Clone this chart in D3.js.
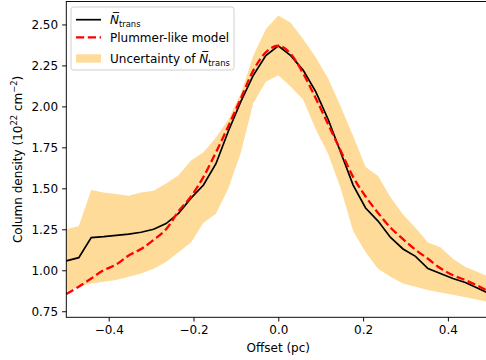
<!DOCTYPE html>
<html>
<head>
<meta charset="utf-8">
<script src="https://cdn.jsdelivr.net/npm/d3@7"></script>
<style>
  body { margin: 0; background: #fff; }
  svg { display: block; font-family: "DejaVu Sans", sans-serif; }
</style>
</head>
<body>
<div id="chart"></div>
<script>
// offsets (pc), 35 samples from -0.5 to 0.5
var offsets = d3.range(35).map(function(i){ return -0.5 + i / 34; });

// mean transverse column density (1e22 cm^-2)
var nTrans = [1.057, 1.077, 1.199, 1.205, 1.213, 1.22, 1.232, 1.25, 1.285, 1.347,
              1.44, 1.52, 1.65, 1.85, 2.03, 2.19, 2.31, 2.37, 2.31, 2.22,
              2.09, 1.92, 1.72, 1.52, 1.38, 1.30, 1.20, 1.13, 1.085, 1.01,
              0.98, 0.95, 0.925, 0.89, 0.855];

// Plummer-like model
var model = [0.855, 0.90, 0.95, 1.00, 1.035, 1.09, 1.13, 1.185, 1.25, 1.36,
             1.45, 1.57, 1.72, 1.88, 2.05, 2.22, 2.33, 2.37, 2.32, 2.20,
             2.05, 1.89, 1.73, 1.57, 1.45, 1.35, 1.26, 1.19, 1.125, 1.07,
             1.012, 0.97, 0.94, 0.905, 0.865];

// uncertainty band
var upper = [1.25, 1.27, 1.49, 1.475, 1.465, 1.455, 1.475, 1.485, 1.53, 1.58,
             1.67, 1.72, 1.81, 1.92, 2.08, 2.31, 2.47, 2.555, 2.51, 2.41,
             2.30, 2.17, 2.00, 1.82, 1.63, 1.575, 1.445, 1.34, 1.26, 1.17,
             1.14, 1.07, 1.02, 0.99, 0.955];
var lower = [0.87, 0.90, 0.92, 0.93, 0.94, 0.96, 0.98, 1.01, 1.05, 1.11,
             1.17, 1.29, 1.345, 1.50, 1.72, 2.02, 2.15, 2.19, 2.12, 2.04,
             1.86, 1.71, 1.50, 1.24, 1.11, 1.01, 0.96, 0.92, 0.90, 0.88,
             0.865, 0.85, 0.835, 0.82, 0.805];

var xTicks = [-0.4, -0.2, 0.0, 0.2, 0.4];
var yTicks = [0.75, 1.00, 1.25, 1.50, 1.75, 2.00, 2.25, 2.50];

var W = 486, H = 360;
var margin = {top: 1.5, left: 66.3};
var plotW = 424, plotH = 315.8;
var fs = 12, fsSmall = 8.4;

var svg = d3.select("#chart").append("svg")
    .attr("width", W).attr("height", H);

var g = svg.append("g")
    .attr("transform", "translate(" + margin.left + "," + margin.top + ")");

var x = d3.scaleLinear().domain([-0.5, 0.5]).range([0, plotW]);
var y = d3.scaleLinear().domain([0.713, 2.64]).range([plotH, 0]);

var pts = offsets.map(function(o, i){
  return {x: o, n: nTrans[i], m: model[i], hi: upper[i], lo: lower[i]};
});

// band
g.append("path")
  .datum(pts)
  .attr("fill", "#ffdb99")
  .attr("d", d3.area()
    .x(function(d){ return x(d.x); })
    .y0(function(d){ return y(d.lo); })
    .y1(function(d){ return y(d.hi); }));

g.append("path")
  .datum(pts)
  .attr("fill", "none")
  .attr("stroke", "#000")
  .attr("stroke-width", 1.7)
  .attr("d", d3.line().x(function(d){ return x(d.x); }).y(function(d){ return y(d.n); }));

g.append("path")
  .datum(pts)
  .attr("fill", "none")
  .attr("stroke", "#ff0000")
  .attr("stroke-width", 2.3)
  .attr("stroke-dasharray", "8.2,3.6")
  .attr("d", d3.line().curve(d3.curveMonotoneX)
    .x(function(d){ return x(d.x); }).y(function(d){ return y(d.m); }));

// axes
var xAxis = g.append("g")
  .attr("transform", "translate(0," + plotH + ")")
  .call(d3.axisBottom(x).tickValues(xTicks).tickSize(4.2).tickPadding(4)
    .tickFormat(function(d){ return d3.format(".1f")(d).replace("-", "\u2212"); }));
var yAxis = g.append("g")
  .call(d3.axisLeft(y).tickValues(yTicks).tickSize(4.2).tickPadding(4)
    .tickFormat(d3.format(".2f")));

[xAxis, yAxis].forEach(function(a){
  a.select(".domain").remove();
  a.selectAll("line").attr("stroke", "#000").attr("stroke-width", 0.95);
  a.selectAll("text").attr("fill", "#000").style("font-size", fs + "px")
    .style("font-family", "DejaVu Sans");
});

// spines
g.append("rect")
  .attr("x", 0).attr("y", 0).attr("width", plotW).attr("height", plotH)
  .attr("fill", "none").attr("stroke", "#000").attr("stroke-width", 0.95);

// axis labels
svg.append("text")
  .attr("x", margin.left + plotW / 2).attr("y", 352)
  .attr("text-anchor", "middle").style("font-size", fs + "px")
  .text("Offset (pc)");

var yl = svg.append("text")
  .attr("transform", "translate(21.5," + (margin.top + plotH / 2) + ") rotate(-90)")
  .attr("text-anchor", "middle").style("font-size", fs + "px");
yl.append("tspan").text("Column density (10");
yl.append("tspan").attr("dy", -4.5).style("font-size", fsSmall + "px").text("22");
yl.append("tspan").attr("dy", 4.5).text(" cm");
yl.append("tspan").attr("dy", -4.5).style("font-size", fsSmall + "px").text("\u22122");
yl.append("tspan").attr("dy", 4.5).text(")");

// legend
var lg = svg.append("g").attr("transform", "translate(71,7)");
lg.append("rect")
  .attr("width", 163).attr("height", 63).attr("rx", 2.5)
  .attr("fill", "#fff").attr("fill-opacity", 0.8)
  .attr("stroke", "#cccccc").attr("stroke-width", 0.95);

var rowY = [12.7, 30.4, 51.3];

lg.append("line").attr("x1", 5).attr("x2", 30).attr("y1", rowY[0]).attr("y2", rowY[0])
  .attr("stroke", "#000").attr("stroke-width", 1.7);
lg.append("line").attr("x1", 5).attr("x2", 30).attr("y1", rowY[1]).attr("y2", rowY[1])
  .attr("stroke", "#ff0000").attr("stroke-width", 2.3).attr("stroke-dasharray", "8.2,3.6");
lg.append("rect").attr("x", 5).attr("y", rowY[2] - 4).attr("width", 25).attr("height", 8.3)
  .attr("fill", "#ffdb99");

function nbar(t){
  t.append("tspan").style("font-style", "italic").text("N\u0305");
  t.append("tspan").attr("dy", 3.2).style("font-size", fsSmall + "px").text("trans");
}

var t0 = lg.append("text").attr("x", 39).attr("y", rowY[0] + 4.4).style("font-size", fs + "px");
nbar(t0);
lg.append("text").attr("x", 39).attr("y", rowY[1] + 4.4).style("font-size", fs + "px")
  .text("Plummer-like model");
var t2 = lg.append("text").attr("x", 39).attr("y", rowY[2] + 4.4).style("font-size", fs + "px");
t2.append("tspan").text("Uncertainty of ");
nbar(t2);
</script>
</body>
</html>
